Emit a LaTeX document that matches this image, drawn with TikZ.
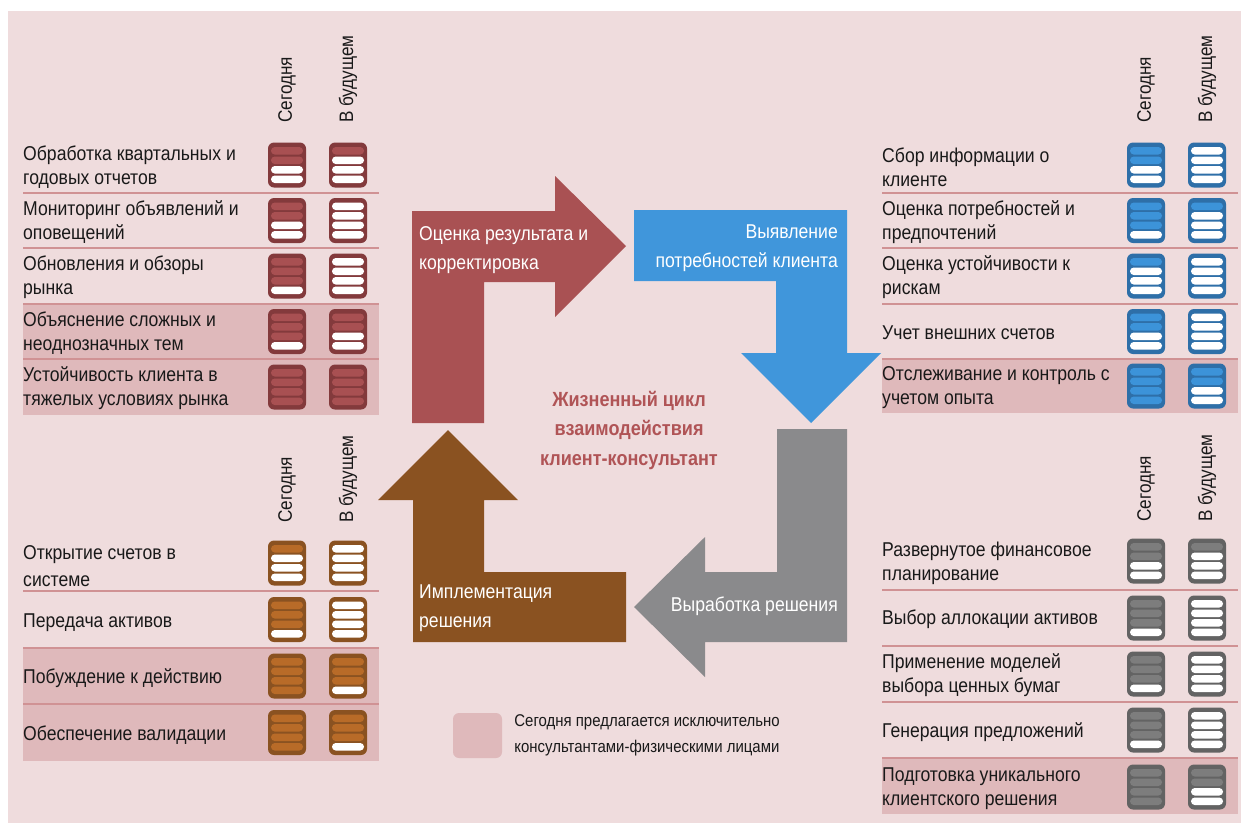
\documentclass[tikz,border=0pt]{standalone}
\usepackage{fontspec}
\setmainfont{Liberation Sans}[FakeStretch=0.88]
\usepackage{tikz}
\usetikzlibrary{positioning}

\definecolor{bgpink}{HTML}{EFDCDD}
\definecolor{hilite}{HTML}{DFB9BB}
\definecolor{divline}{HTML}{D09294}
\definecolor{rdarrow}{HTML}{A95153}
\definecolor{rdframe}{HTML}{833A3C}
\definecolor{rdpill}{HTML}{A85052}
\definecolor{blarrow}{HTML}{4096DB}
\definecolor{blframe}{HTML}{2E6FA8}
\definecolor{blpill}{HTML}{3C93D9}
\definecolor{gyarrow}{HTML}{8A8A8C}
\definecolor{gyframe}{HTML}{636363}
\definecolor{gypill}{HTML}{7D7D7D}
\definecolor{brarrow}{HTML}{8A5221}
\definecolor{brframe}{HTML}{8A5221}
\definecolor{brpill}{HTML}{B86B28}
\definecolor{titlered}{HTML}{B05456}

\begin{document}
\begin{tikzpicture}[x=1pt, y=-1pt,
    every node/.style={inner sep=0pt},
    item/.style={anchor=west, align=left, text=black!90, font=\fontsize{20}{24}\selectfont},
    colhead/.style={rotate=90, anchor=west, text=black!90, font=\fontsize{19.5}{24}\selectfont},
    steptext/.style={text=white, font=\fontsize{20}{29}\selectfont},
    title/.style={align=center, text=titlered, font=\fontsize{20.5}{29.5}\selectfont\bfseries},
    divider/.style={draw=divline, line width=1.5pt},
    swatch/.style={fill=hilite, rounded corners=6pt, minimum width=49pt, minimum height=45pt},
    legend/.style={anchor=west, align=left, text=black!90, font=\fontsize{17}{26}\selectfont},
    pics/meter/.style 2 args={code={
        \fill[#1frame, rounded corners=6pt] (-19,-22.5) rectangle (19,22.5);
        \foreach \k in {1,...,4} {
            \ifnum\k>#2\relax \def\pc{white}\else \def\pc{#1pill}\fi
            \fill[\pc, rounded corners=3.7pt] (-16,{-18+(\k-1)*9.5}) rectangle ++(32,7.5);
        }
    }}]

    \useasboundingbox (0,0) rectangle (1241,823);
    \fill[bgpink] (8,11) rectangle (1241,823);

    % cycle arrows
    \fill[rdarrow] (412,423) -- (412,211) -- (555,211) -- (555,176) -- (626,246)
        -- (555,317) -- (555,282) -- (484,282) -- (484,423) -- cycle;
    \fill[blarrow] (634,210) -- (847,210) -- (847,353) -- (881,353) -- (811,423)
        -- (741,353) -- (776,353) -- (776,281) -- (634,281) -- cycle;
    \fill[gyarrow] (847,429) -- (847,642) -- (705,642) -- (705,677) -- (634,607)
        -- (705,537) -- (705,572) -- (777,572) -- (777,429) -- cycle;
    \fill[brarrow] (626,642) -- (413,642) -- (413,500) -- (378,500) -- (448,430)
        -- (518,500) -- (484,500) -- (484,572) -- (626,572) -- cycle;

    \node[steptext, anchor=west, align=left] (assess) at (419,250) {Оценка результата и\\корректировка};
    \node[steptext, anchor=east, align=right] (needs) at (838,248.5) {Выявление\\потребностей клиента};
    \node[steptext, anchor=east] (solve) at (838,606) {Выработка решения};
    \node[steptext, anchor=west, align=left] (implement) at (419,608.5) {Имплементация\\решения};
    \node[title] (cycle) at (629,430) {Жизненный цикл\\взаимодействия\\клиент-консультант};

    % top left block
    \fill[hilite] (23,304) rectangle (379,415);
    \foreach \y in {193,248,304,359}
        \draw[divider] (23,\y) -- (379,\y);
    \node[colhead] (tlnow) at (287,123) {Сегодня};
    \node[colhead] (tlnext) at (348,123) {В будущем};
    \node[item] (tl1) at (23,167) {Обработка квартальных и\\годовых отчетов};
    \node[item] (tl2) at (23,222) {Мониторинг объявлений и\\оповещений};
    \node[item] (tl3) at (23,277.5) {Обновления и обзоры\\рынка};
    \node[item] (tl4) at (23,333) {Объяснение сложных и\\неоднозначных тем};
    \node[item] (tl5) at (23,388.5) {Устойчивость клиента в\\тяжелых условиях рынка};
    \foreach \y/\a/\b in {165/2/1, 220.5/2/0, 276/3/0, 331.5/3/2, 387/4/4} {
        \pic at (287,\y) {meter={rd}{\a}};
        \pic at (348,\y) {meter={rd}{\b}};
    }

    % top right block
    \fill[hilite] (882,359) rectangle (1238,413);
    \foreach \y in {193,248,304,359}
        \draw[divider] (882,\y) -- (1238,\y);
    \node[colhead] (trnow) at (1146,123) {Сегодня};
    \node[colhead] (trnext) at (1207,123) {В будущем};
    \node[item] (tr1) at (882,167) {Сбор информации о\\клиенте};
    \node[item] (tr2) at (882,222) {Оценка потребностей и\\предпочтений};
    \node[item] (tr3) at (882,277.5) {Оценка устойчивости к\\рискам};
    \node[item] (tr4) at (882,333) {Учет внешних счетов};
    \node[item] (tr5) at (882,388) {Отслеживание и контроль с\\учетом опыта};
    \foreach \y/\a/\b in {165/2/0, 220.5/3/1, 276/1/0, 331.5/2/0, 386/4/2} {
        \pic at (1146,\y) {meter={bl}{\a}};
        \pic at (1207,\y) {meter={bl}{\b}};
    }

    % bottom left block
    \fill[hilite] (23,648) rectangle (379,761);
    \foreach \y in {591,648,704}
        \draw[divider] (23,\y) -- (379,\y);
    \node[colhead] (blnow) at (287,523) {Сегодня};
    \node[colhead] (blnext) at (348,523) {В будущем};
    \node[item, font=\fontsize{20}{27}\selectfont] (bl1) at (23,566.5) {Открытие счетов в\\системе};
    \node[item] (bl2) at (23,622.5) {Передача активов};
    \node[item] (bl3) at (23,678.5) {Побуждение к действию};
    \node[item] (bl4) at (23,735) {Обеспечение валидации};
    \foreach \y/\a/\b in {563/1/0, 619.5/3/0, 676/4/3, 732.5/4/3} {
        \pic at (287,\y) {meter={br}{\a}};
        \pic at (348,\y) {meter={br}{\b}};
    }

    % bottom right block
    \fill[hilite] (882,758) rectangle (1238,814);
    \foreach \y in {590,646,702,758}
        \draw[divider] (882,\y) -- (1238,\y);
    \node[colhead] (brnow) at (1146,522) {Сегодня};
    \node[colhead] (brnext) at (1207,522) {В будущем};
    \node[item] (br1) at (882,563.5) {Развернутое финансовое\\планирование};
    \node[item] (br2) at (882,619.5) {Выбор аллокации активов};
    \node[item] (br3) at (882,675.5) {Применение моделей\\выбора ценных бумаг};
    \node[item] (br4) at (882,732.5) {Генерация предложений};
    \node[item] (br5) at (882,788.5) {Подготовка уникального\\клиентского решения};
    \foreach \y/\a/\b in {561/2/1, 618/3/0, 674/3/0, 730/3/0, 787/4/2} {
        \pic at (1146,\y) {meter={gy}{\a}};
        \pic at (1207,\y) {meter={gy}{\b}};
    }

    % legend
    \node[swatch] (key) at (477.5,735.5) {};
    \node[legend, right=12pt of key] (keytext) {Сегодня предлагается исключительно\\консультантами-физическими лицами};
\end{tikzpicture}
\end{document}
